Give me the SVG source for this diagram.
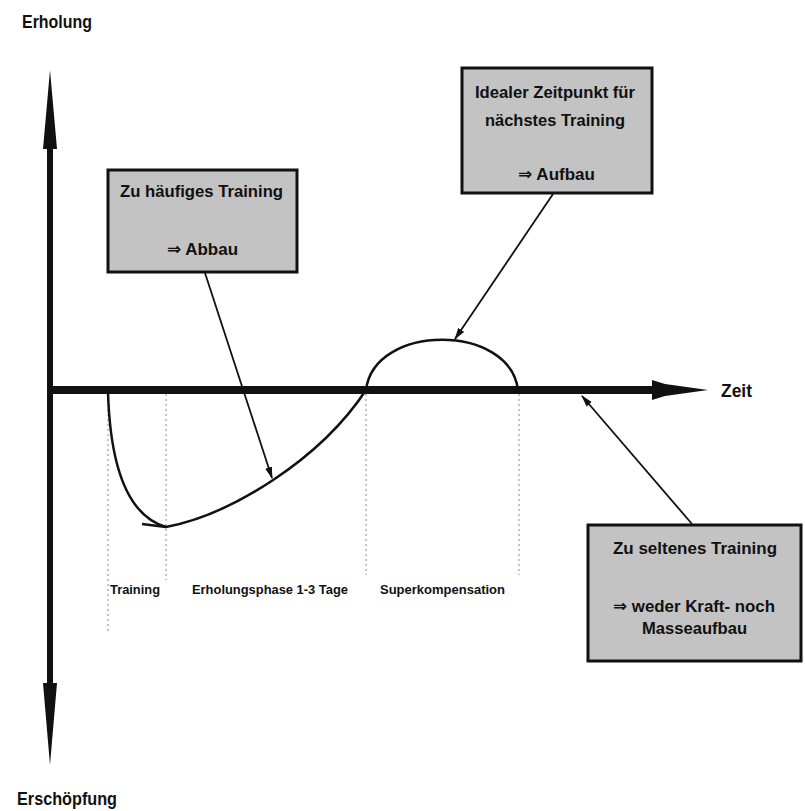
<svg xmlns="http://www.w3.org/2000/svg" width="805" height="811" viewBox="0 0 805 811">
<style>
.lbl{font-family:"Liberation Sans","DejaVu Sans",sans-serif;font-weight:bold;fill:#111}
.box{fill:#c3c3c3;stroke:#111;stroke-width:3}
.bt{font-family:"Liberation Sans","DejaVu Sans",sans-serif;font-weight:bold;font-size:17px;fill:#111;text-anchor:start}
.dot{stroke:#888;stroke-width:1;stroke-dasharray:2,3;fill:none}
.con{stroke:#111;stroke-width:1.8;fill:none;marker-end:url(#ah)}
</style>
<defs>
<marker id="ah" viewBox="0 0 12 8" refX="11" refY="4" markerWidth="12" markerHeight="8" markerUnits="userSpaceOnUse" orient="auto">
<path d="M0,0.5 L12,4 L0,7.5 Z" fill="#111"/>
</marker>
</defs>
<rect width="805" height="811" fill="#fff"/>

<g id="axes">
<rect x="47" y="148" width="6" height="536" fill="#111"/>
<polygon points="50,70 57,149 43,149" fill="#111"/>
<polygon points="50,765 57,683 43,683" fill="#111"/>
<rect x="47" y="386" width="608" height="8" fill="#111"/>
<polygon points="652,380 665,384 708,390 665,396 652,400" fill="#111"/>
</g>

<g id="axis-labels">
<text class="lbl" x="22" y="28" font-size="18" textLength="70" lengthAdjust="spacingAndGlyphs">Erholung</text>
<text class="lbl" x="17" y="805" font-size="18" textLength="100" lengthAdjust="spacingAndGlyphs">Erschöpfung</text>
<text class="lbl" x="721" y="397" font-size="18" textLength="31" lengthAdjust="spacingAndGlyphs">Zeit</text>
</g>

<g id="guides">
<line class="dot" x1="108" y1="394" x2="108" y2="632"/>
<line class="dot" x1="166" y1="394" x2="166" y2="580"/>
<line class="dot" x1="366" y1="394" x2="366" y2="575"/>
<line class="dot" x1="519" y1="394" x2="519" y2="575"/>
</g>

<g id="phase-labels">
<text class="lbl" x="110" y="594" font-size="13" textLength="50" lengthAdjust="spacingAndGlyphs">Training</text>
<text class="lbl" x="192" y="594" font-size="13" textLength="156" lengthAdjust="spacingAndGlyphs">Erholungsphase 1-3 Tage</text>
<text class="lbl" x="380" y="594" font-size="13" textLength="125" lengthAdjust="spacingAndGlyphs">Superkompensation</text>
</g>

<g id="curve" fill="none" stroke="#111" stroke-width="2.5">
<path d="M108,392 C110,460 125,515 166,527 C230,515 320,460 366,390"/>
<path d="M142,524 L166,527"/>
<path d="M366,390 C374,323 510,323 518,390"/>
</g>

<g id="box-haeufig">
<rect class="box" x="108" y="170" width="189" height="102"/>
<text class="bt" x="120" y="197" textLength="163" lengthAdjust="spacingAndGlyphs">Zu häufiges Training</text>
<text class="bt" x="167" y="255" textLength="71" lengthAdjust="spacingAndGlyphs">⇒ Abbau</text>
</g>

<g id="box-ideal">
<rect class="box" x="462" y="68" width="190" height="125"/>
<text class="bt" x="475" y="98" textLength="160" lengthAdjust="spacingAndGlyphs">Idealer Zeitpunkt für</text>
<text class="bt" x="485" y="126" textLength="140" lengthAdjust="spacingAndGlyphs">nächstes Training</text>
<text class="bt" x="518" y="180" textLength="77" lengthAdjust="spacingAndGlyphs">⇒ Aufbau</text>
</g>

<g id="box-selten">
<rect class="box" x="588" y="525" width="213" height="136"/>
<text class="bt" x="613" y="554" textLength="164" lengthAdjust="spacingAndGlyphs">Zu seltenes Training</text>
<text class="bt" x="613" y="612" textLength="162" lengthAdjust="spacingAndGlyphs">⇒ weder Kraft- noch</text>
<text class="bt" x="642" y="634" textLength="105" lengthAdjust="spacingAndGlyphs">Masseaufbau</text>
</g>

<g id="connectors">
<line class="con" x1="205" y1="273" x2="272" y2="478"/>
<line class="con" x1="553" y1="194" x2="455" y2="339"/>
<line class="con" x1="692" y1="524" x2="582" y2="396"/>
</g>
</svg>
